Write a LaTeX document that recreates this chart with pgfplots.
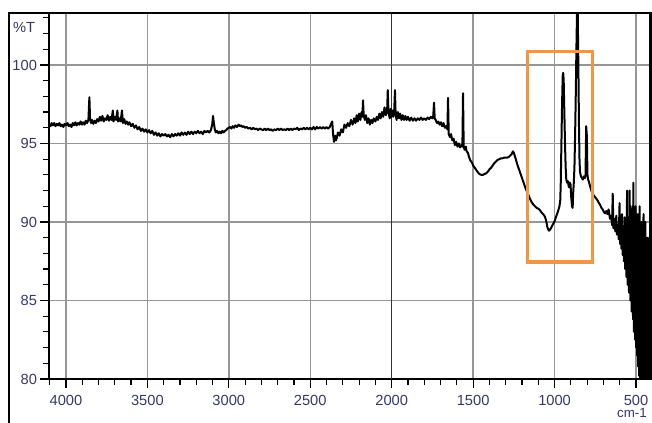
\documentclass[border=0pt]{standalone}
\usepackage{pgfplots}
\pgfplotsset{compat=1.18}
\usepackage{fontspec}
\setmainfont{Liberation Sans}
\definecolor{lbl}{RGB}{55,55,110}
\definecolor{gridc}{RGB}{150,150,150}
\definecolor{boxc}{RGB}{242,150,70}
\begin{document}
\begin{tikzpicture}
\useasboundingbox (0pt,0pt) rectangle (489pt,317.25pt);
\begin{axis}[
  at={(36.75pt,33pt)}, anchor=south west,
  scale only axis, width=451.5pt, height=274.5pt,
  x dir=reverse,
  xmin=408, xmax=4104, ymin=80, ymax=103.31,
  xtick={500,1000,...,4000},
  minor xtick={500,600,...,4100},
  ytick={80,85,...,100},
  minor ytick={80,81,...,103},
  xtick pos=left, ytick pos=left,
  tick align=outside,
  major tick length=6.5pt, minor tick length=4.5pt,
  every tick/.style={black, line width=0.9pt},
  grid=major,
  major grid style={gridc, line width=1.1pt},
  axis line style={black, line width=1pt},
  tick label style={font=\fontsize{11}{13}\selectfont, text=lbl},
  /pgf/number format/assume math mode=true,
  /pgf/number format/set thousands separator={},
  yticklabel style={xshift=1pt},
  xticklabel style={yshift=-2pt},
  clip=true,
]
\draw[black!80, line width=1.1pt] (axis cs:2000,80) -- (axis cs:2000,103.31);
\addplot[black, line width=1.5pt, line join=round, mark=none] coordinates {
(4104,96.25)(4095,96.1)(4088,96.3)(4080,96.15)(4072,96.3)(4064,96.1)(4056,96.25)(4048,96.15)(4040,96.3)(4032,96.1)
(4024,96.2)(4016,96.05)(4008,96.25)(4000,96.15)(3990,96.3)(3982,96.1)(3974,96.2)(3966,96.05)(3958,96.3)(3950,96.15)
(3942,96.35)(3934,96.15)(3926,96.3)(3918,96.2)(3910,96.4)(3902,96.2)(3894,96.35)(3886,96.2)(3878,96.45)(3870,96.3)
(3862,96.5)(3856,97.95)(3852,96.6)(3846,96.3)(3840,96.5)(3832,96.25)(3824,96.45)(3816,96.3)(3808,96.55)(3800,96.4)
(3792,96.7)(3784,96.45)(3776,96.75)(3768,96.4)(3760,96.6)(3752,96.5)(3744,96.8)(3736,96.45)(3728,96.7)(3720,96.5)
(3712,97.1)(3708,96.4)(3700,96.7)(3692,96.5)(3684,97.1)(3680,96.4)(3672,96.6)(3664,96.4)(3656,97.1)(3650,96.3)
(3642,96.55)(3634,96.25)(3626,96.4)(3618,96.2)(3610,96.35)(3600,96.1)(3590,96.25)(3580,96.0)(3570,96.15)(3560,95.9)
(3550,96.05)(3540,95.8)(3530,95.95)(3520,95.75)(3510,95.9)(3500,95.7)(3490,95.85)(3480,95.65)(3470,95.8)(3460,95.55)
(3450,95.7)(3440,95.5)(3430,95.65)(3420,95.45)(3410,95.6)(3400,95.5)(3390,95.6)(3380,95.45)(3370,95.55)(3360,95.4)
(3350,95.6)(3340,95.45)(3330,95.6)(3320,95.5)(3310,95.65)(3300,95.5)(3290,95.7)(3280,95.55)(3270,95.7)(3260,95.55)
(3250,95.75)(3240,95.6)(3230,95.75)(3220,95.6)(3210,95.75)(3200,95.65)(3190,95.8)(3180,95.65)(3170,95.75)(3160,95.6)
(3150,95.8)(3140,95.7)(3130,95.8)(3120,95.7)(3110,95.85)(3102,96.2)(3097,96.75)(3092,96.3)(3086,95.9)(3080,95.7)
(3072,95.8)(3064,95.65)(3056,95.75)(3048,95.65)(3040,95.8)(3032,95.7)(3024,95.8)(3016,95.85)(3008,95.95)(3000,96.0)
(2992,96.05)(2984,95.95)(2976,96.1)(2968,96.0)(2960,96.15)(2950,96.05)(2940,96.2)(2932,96.1)(2924,96.15)(2916,96.05)
(2908,96.1)(2900,96.0)(2890,96.05)(2880,95.95)(2870,96.0)(2860,95.9)(2850,96.0)(2840,95.9)(2830,95.95)(2820,95.85)
(2810,95.95)(2800,95.9)(2790,95.85)(2780,95.95)(2770,95.85)(2760,95.95)(2750,95.85)(2740,95.9)(2730,95.8)(2720,95.9)
(2710,95.85)(2700,95.95)(2690,95.85)(2680,95.95)(2670,95.85)(2660,95.9)(2650,95.85)(2640,95.95)(2630,95.85)(2620,95.95)
(2610,95.85)(2600,95.95)(2590,95.9)(2580,96.0)(2570,95.85)(2560,95.95)(2550,95.9)(2540,96.0)(2530,95.9)(2520,96.0)
(2510,95.9)(2500,96.0)(2490,95.9)(2480,96.05)(2470,95.9)(2460,96.05)(2450,95.95)(2440,96.05)(2430,95.95)(2420,96.05)
(2410,95.95)(2400,96.05)(2390,95.95)(2380,96.05)(2370,96.3)(2365,96.4)(2360,95.6)(2354,95.1)(2348,95.5)(2342,95.2)
(2336,95.4)(2330,95.7)(2320,95.5)(2310,95.9)(2300,95.7)(2290,96.2)(2280,96.0)(2270,96.3)(2260,96.1)(2250,96.5)
(2240,96.2)(2230,96.6)(2222,96.3)(2215,96.8)(2208,96.4)(2200,96.9)(2192,96.5)(2185,97.0)(2180,96.7)(2176,97.75)
(2172,96.8)(2165,96.5)(2158,96.8)(2150,96.3)(2142,96.6)(2134,96.2)(2126,96.5)(2118,96.3)(2110,96.6)(2100,96.4)
(2092,96.7)(2084,96.5)(2076,96.9)(2068,96.6)(2060,97.0)(2052,96.7)(2044,97.3)(2036,96.8)(2028,97.1)(2024,98.4)
(2020,97.0)(2012,96.6)(2006,97.2)(2002,96.7)(1996,97.1)(1990,96.7)(1984,97.2)(1980,98.4)(1976,96.9)(1970,96.5)
(1962,97.0)(1955,96.6)(1948,96.9)(1940,96.5)(1932,96.8)(1924,96.5)(1916,96.75)(1908,96.5)(1900,96.7)(1890,96.45)
(1880,96.65)(1870,96.45)(1860,96.6)(1850,96.45)(1840,96.6)(1830,96.5)(1820,96.65)(1810,96.5)(1800,96.6)(1790,96.5)
(1780,96.65)(1770,96.55)(1760,96.7)(1750,96.6)(1745,96.75)(1740,97.6)(1736,96.6)(1730,96.5)(1722,96.3)(1714,96.4)
(1706,96.2)(1698,96.35)(1690,96.1)(1682,96.3)(1674,96.0)(1666,96.1)(1658,95.9)(1654,97.9)(1650,95.6)(1642,95.4)
(1636,95.6)(1628,95.2)(1620,95.3)(1612,94.9)(1604,95.1)(1596,94.8)(1588,95.0)(1580,94.75)(1572,94.9)(1566,94.8)
(1562,98.2)(1558,94.8)(1552,94.6)(1545,94.8)(1540,94.5)(1532,94.4)(1524,94.1)(1516,93.9)(1508,93.8)(1500,93.6)
(1490,93.45)(1480,93.3)(1470,93.15)(1460,93.05)(1450,93.0)(1440,93.0)(1430,93.05)(1420,93.1)(1410,93.2)(1400,93.35)
(1390,93.45)(1380,93.6)(1370,93.75)(1360,93.85)(1350,93.95)(1340,94.0)(1330,94.05)(1320,94.05)(1310,94.1)(1300,94.1)
(1290,94.1)(1280,94.15)(1270,94.25)(1262,94.35)(1256,94.5)(1250,94.4)(1244,94.2)(1238,94.0)(1230,93.7)(1220,93.4)
(1210,93.1)(1200,92.8)(1190,92.5)(1180,92.2)(1170,91.95)(1160,91.7)(1150,91.45)(1140,91.25)(1130,91.1)(1120,91.0)
(1110,90.9)(1100,90.85)(1090,90.75)(1080,90.6)(1070,90.5)(1060,90.35)(1055,90.2)(1050,90.0)(1045,89.7)(1040,89.55)
(1034,89.45)(1028,89.5)(1020,89.65)(1010,89.85)(1000,90.05)(992,90.3)(985,90.5)(977,90.75)(970,91.0)(965,91.4)
(962,92.5)(958,95.0)(954,97.5)(950,99.3)(947,99.5)(944,99.0)(940,97.0)(936,95.0)(932,93.5)(928,92.7)
(923,92.5)(918,92.6)(914,92.3)(910,92.2)(906,92.5)(902,92.4)(898,91.6)(893,91.0)(889,90.9)(886,91.8)
(882,92.5)(878,93.5)(874,95.5)(870,98.0)(866,101.0)(862,103.5)(858,103.5)(854,100.0)(850,96.0)(847,94.0)
(844,93.2)(838,92.9)(832,92.8)(826,92.7)(820,92.9)(814,92.8)(810,93.0)(806,96.1)(802,95.5)(798,93.0)
(794,92.7)(790,92.6)(785,92.4)(780,92.2)(774,92.0)(768,91.8)(760,91.7)(752,91.6)(745,91.5)(738,91.4)
(730,91.25)(721,91.1)(712,90.9)(705,90.8)(698,90.65)(690,90.55)(682,90.7)(675,90.5)(668,90.8)(660,90.2)
(653,90.4)(647,89.8)(643,91.8)(639,89.6)(633,90.2)(627,89.4)(621,90.4)(617,89.2)(612,89.8)(606,88.9)
(601,91.2)(598,88.6)(594,90.0)(590,88.3)(586,90.5)(582,87.9)(578,89.4)(574,87.5)(570,90.3)(567,87.0)
(563,89.0)(559,86.5)(555,92.0)(551,86.0)(547,88.5)(543,85.5)(539,92.0)(535,85.0)
(531,88.0)(529,90.5)(527,84.3)(525,89.0)(523,91.0)(521,85.0)(518,83.8)(516,92.5)(514,86.0)(513,83.0)
(511,90.0)(509,88.5)(507,83.5)(505,82.5)(503,89.5)(502,91.0)(500,84.0)(499,82.0)(497,90.0)(496,87.0)
(494,82.5)(493,81.5)(491,88.0)(490,90.5)(488,82.0)(487,80.8)(485,89.5)(484,86.5)(482,81.0)(481,80.2)
(479,88.0)(478,91.0)(476,81.0)(475,80.0)(473,89.0)(472,85.0)(470,80.5)(469,79.8)(467,87.0)(466,90.0)
(464,81.0)(463,80.0)(461,89.0)(460,86.0)(458,80.0)(457,79.7)(455,87.5)(454,90.5)(452,81.0)(451,80.0)
(449,88.0)(448,84.0)(446,80.5)(445,79.7)(443,90.0)(442,88.0)(440,80.0)(439,79.7)(437,89.0)(436,86.0)
(434,80.5)(433,79.7)(431,87.0)(430,89.0)(428,81.0)(427,80.0)(425,88.0)(424,85.0)(422,80.0)(421,79.7)
(419,89.0)(418,87.0)(416,80.0)(415,79.7)(413,88.0)(412,86.0)(410,80.0)
};
\draw[boxc, line width=2.3pt] (axis cs:1168,87.45) rectangle (axis cs:769,100.83);
\draw[black, line width=2.4pt] (rel axis cs:1,0) -- (rel axis cs:1,1);
\end{axis}
\draw[black, line width=1pt] (6.75pt,0pt) -- (6.75pt,307.5pt) -- (489pt,307.5pt);
\node[text=lbl, font=\fontsize{11}{13}\selectfont] at (18pt,297pt) {\%T};
\node[text=lbl, font=\fontsize{10}{12}\selectfont, anchor=south] at (474pt,0.3pt) {cm-1};
\end{tikzpicture}
\end{document}
